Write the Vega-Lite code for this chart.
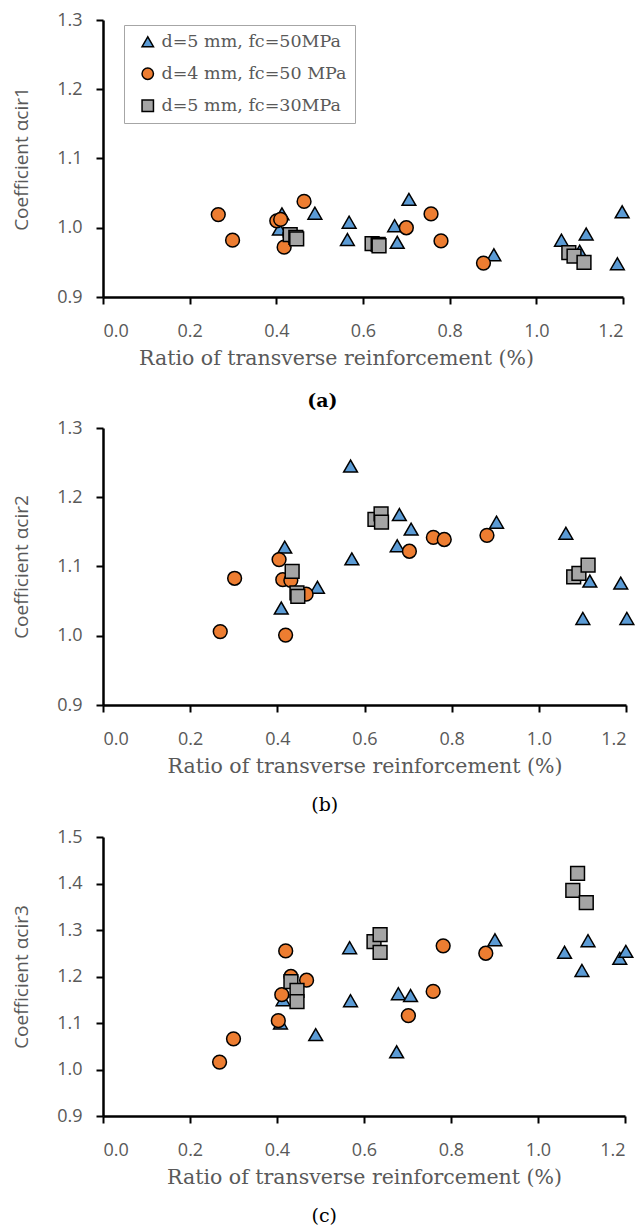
{
  "$schema": "https://vega.github.io/schema/vega-lite/v6.json",
  "padding": {"left": 12, "top": 11, "right": 0, "bottom": 0},
  "background": "white",
  "spacing": 8,
  "datasets": {
    "pts": [
      {"p":"a","s":"d=5 mm, fc=50MPa","x":0.407,"y":0.998},
      {"p":"a","s":"d=5 mm, fc=50MPa","x":0.413,"y":1.020},
      {"p":"a","s":"d=5 mm, fc=50MPa","x":0.489,"y":1.021},
      {"p":"a","s":"d=5 mm, fc=50MPa","x":0.568,"y":1.008},
      {"p":"a","s":"d=5 mm, fc=50MPa","x":0.564,"y":0.983},
      {"p":"a","s":"d=5 mm, fc=50MPa","x":0.673,"y":1.003},
      {"p":"a","s":"d=5 mm, fc=50MPa","x":0.679,"y":0.979},
      {"p":"a","s":"d=5 mm, fc=50MPa","x":0.706,"y":1.041},
      {"p":"a","s":"d=5 mm, fc=50MPa","x":0.902,"y":0.961},
      {"p":"a","s":"d=5 mm, fc=50MPa","x":1.058,"y":0.982},
      {"p":"a","s":"d=5 mm, fc=50MPa","x":1.100,"y":0.966},
      {"p":"a","s":"d=5 mm, fc=50MPa","x":1.115,"y":0.991},
      {"p":"a","s":"d=5 mm, fc=50MPa","x":1.187,"y":0.948},
      {"p":"a","s":"d=5 mm, fc=50MPa","x":1.198,"y":1.023},
      {"p":"a","s":"d=4 mm, fc=50 MPa","x":0.266,"y":1.019},
      {"p":"a","s":"d=4 mm, fc=50 MPa","x":0.299,"y":0.982},
      {"p":"a","s":"d=4 mm, fc=50 MPa","x":0.401,"y":1.010},
      {"p":"a","s":"d=4 mm, fc=50 MPa","x":0.410,"y":1.012},
      {"p":"a","s":"d=4 mm, fc=50 MPa","x":0.418,"y":0.972},
      {"p":"a","s":"d=4 mm, fc=50 MPa","x":0.431,"y":0.990},
      {"p":"a","s":"d=4 mm, fc=50 MPa","x":0.464,"y":1.038},
      {"p":"a","s":"d=4 mm, fc=50 MPa","x":0.700,"y":1.000},
      {"p":"a","s":"d=4 mm, fc=50 MPa","x":0.757,"y":1.020},
      {"p":"a","s":"d=4 mm, fc=50 MPa","x":0.780,"y":0.981},
      {"p":"a","s":"d=4 mm, fc=50 MPa","x":0.878,"y":0.949},
      {"p":"a","s":"d=5 mm, fc=30MPa","x":0.432,"y":0.990},
      {"p":"a","s":"d=5 mm, fc=30MPa","x":0.445,"y":0.986},
      {"p":"a","s":"d=5 mm, fc=30MPa","x":0.447,"y":0.984},
      {"p":"a","s":"d=5 mm, fc=30MPa","x":0.621,"y":0.977},
      {"p":"a","s":"d=5 mm, fc=30MPa","x":0.635,"y":0.976},
      {"p":"a","s":"d=5 mm, fc=30MPa","x":0.637,"y":0.974},
      {"p":"a","s":"d=5 mm, fc=30MPa","x":1.075,"y":0.964},
      {"p":"a","s":"d=5 mm, fc=30MPa","x":1.087,"y":0.959},
      {"p":"a","s":"d=5 mm, fc=30MPa","x":1.110,"y":0.950},

      {"p":"b","s":"d=5 mm, fc=50MPa","x":0.409,"y":1.040},
      {"p":"b","s":"d=5 mm, fc=50MPa","x":0.417,"y":1.128},
      {"p":"b","s":"d=5 mm, fc=50MPa","x":0.492,"y":1.070},
      {"p":"b","s":"d=5 mm, fc=50MPa","x":0.568,"y":1.245},
      {"p":"b","s":"d=5 mm, fc=50MPa","x":0.571,"y":1.111},
      {"p":"b","s":"d=5 mm, fc=50MPa","x":0.680,"y":1.175},
      {"p":"b","s":"d=5 mm, fc=50MPa","x":0.675,"y":1.130},
      {"p":"b","s":"d=5 mm, fc=50MPa","x":0.707,"y":1.154},
      {"p":"b","s":"d=5 mm, fc=50MPa","x":0.903,"y":1.164},
      {"p":"b","s":"d=5 mm, fc=50MPa","x":1.062,"y":1.148},
      {"p":"b","s":"d=5 mm, fc=50MPa","x":1.101,"y":1.025},
      {"p":"b","s":"d=5 mm, fc=50MPa","x":1.117,"y":1.079},
      {"p":"b","s":"d=5 mm, fc=50MPa","x":1.188,"y":1.076},
      {"p":"b","s":"d=5 mm, fc=50MPa","x":1.202,"y":1.025},
      {"p":"b","s":"d=4 mm, fc=50 MPa","x":0.269,"y":1.006},
      {"p":"b","s":"d=4 mm, fc=50 MPa","x":0.302,"y":1.083},
      {"p":"b","s":"d=4 mm, fc=50 MPa","x":0.404,"y":1.110},
      {"p":"b","s":"d=4 mm, fc=50 MPa","x":0.4125,"y":1.081},
      {"p":"b","s":"d=4 mm, fc=50 MPa","x":0.419,"y":1.001},
      {"p":"b","s":"d=4 mm, fc=50 MPa","x":0.431,"y":1.080},
      {"p":"b","s":"d=4 mm, fc=50 MPa","x":0.466,"y":1.060},
      {"p":"b","s":"d=4 mm, fc=50 MPa","x":0.703,"y":1.122},
      {"p":"b","s":"d=4 mm, fc=50 MPa","x":0.758,"y":1.142},
      {"p":"b","s":"d=4 mm, fc=50 MPa","x":0.783,"y":1.139},
      {"p":"b","s":"d=4 mm, fc=50 MPa","x":0.881,"y":1.145},
      {"p":"b","s":"d=5 mm, fc=30MPa","x":0.434,"y":1.093},
      {"p":"b","s":"d=5 mm, fc=30MPa","x":0.445,"y":1.062},
      {"p":"b","s":"d=5 mm, fc=30MPa","x":0.447,"y":1.057},
      {"p":"b","s":"d=5 mm, fc=30MPa","x":0.624,"y":1.168},
      {"p":"b","s":"d=5 mm, fc=30MPa","x":0.638,"y":1.176},
      {"p":"b","s":"d=5 mm, fc=30MPa","x":0.639,"y":1.164},
      {"p":"b","s":"d=5 mm, fc=30MPa","x":1.080,"y":1.085},
      {"p":"b","s":"d=5 mm, fc=30MPa","x":1.092,"y":1.090},
      {"p":"b","s":"d=5 mm, fc=30MPa","x":1.113,"y":1.102},

      {"p":"c","s":"d=5 mm, fc=50MPa","x":0.408,"y":1.100},
      {"p":"c","s":"d=5 mm, fc=50MPa","x":0.414,"y":1.150},
      {"p":"c","s":"d=5 mm, fc=50MPa","x":0.489,"y":1.075},
      {"p":"c","s":"d=5 mm, fc=50MPa","x":0.567,"y":1.262},
      {"p":"c","s":"d=5 mm, fc=50MPa","x":0.569,"y":1.148},
      {"p":"c","s":"d=5 mm, fc=50MPa","x":0.679,"y":1.163},
      {"p":"c","s":"d=5 mm, fc=50MPa","x":0.675,"y":1.038},
      {"p":"c","s":"d=5 mm, fc=50MPa","x":0.707,"y":1.159},
      {"p":"c","s":"d=5 mm, fc=50MPa","x":0.901,"y":1.279},
      {"p":"c","s":"d=5 mm, fc=50MPa","x":1.061,"y":1.252},
      {"p":"c","s":"d=5 mm, fc=50MPa","x":1.101,"y":1.213},
      {"p":"c","s":"d=5 mm, fc=50MPa","x":1.115,"y":1.277},
      {"p":"c","s":"d=5 mm, fc=50MPa","x":1.188,"y":1.239},
      {"p":"c","s":"d=5 mm, fc=50MPa","x":1.202,"y":1.254},
      {"p":"c","s":"d=4 mm, fc=50 MPa","x":0.268,"y":1.016},
      {"p":"c","s":"d=4 mm, fc=50 MPa","x":0.300,"y":1.066},
      {"p":"c","s":"d=4 mm, fc=50 MPa","x":0.403,"y":1.105},
      {"p":"c","s":"d=4 mm, fc=50 MPa","x":0.411,"y":1.161},
      {"p":"c","s":"d=4 mm, fc=50 MPa","x":0.420,"y":1.255},
      {"p":"c","s":"d=4 mm, fc=50 MPa","x":0.432,"y":1.200},
      {"p":"c","s":"d=4 mm, fc=50 MPa","x":0.468,"y":1.192},
      {"p":"c","s":"d=4 mm, fc=50 MPa","x":0.702,"y":1.116},
      {"p":"c","s":"d=4 mm, fc=50 MPa","x":0.759,"y":1.168},
      {"p":"c","s":"d=4 mm, fc=50 MPa","x":0.782,"y":1.266},
      {"p":"c","s":"d=4 mm, fc=50 MPa","x":0.880,"y":1.250},
      {"p":"c","s":"d=5 mm, fc=30MPa","x":0.432,"y":1.189},
      {"p":"c","s":"d=5 mm, fc=30MPa","x":0.446,"y":1.170},
      {"p":"c","s":"d=5 mm, fc=30MPa","x":0.446,"y":1.146},
      {"p":"c","s":"d=5 mm, fc=30MPa","x":0.623,"y":1.275},
      {"p":"c","s":"d=5 mm, fc=30MPa","x":0.637,"y":1.290},
      {"p":"c","s":"d=5 mm, fc=30MPa","x":0.637,"y":1.252},
      {"p":"c","s":"d=5 mm, fc=30MPa","x":1.080,"y":1.385},
      {"p":"c","s":"d=5 mm, fc=30MPa","x":1.091,"y":1.422},
      {"p":"c","s":"d=5 mm, fc=30MPa","x":1.111,"y":1.359}
    ]
  },
  "data": {"name": "pts"},
  "resolve": {"scale": {"fill": "independent", "shape": "independent", "stroke": "independent", "x": "independent", "y": "independent"}, "legend": {"fill": "independent", "shape": "independent", "stroke": "independent"}},
  "vconcat": [
    {
      "width": 520, "height": 277,
      "transform": [{"filter": "datum.p == 'a'"}],
      "title": {"text": "(a)", "fontWeight": "bold", "offset": 23},
      "mark": {"type": "point", "filled": true, "strokeWidth": 1.5, "opacity": 1, "strokeOpacity": 1, "size": 190},
      "encoding": {
        "x": {"field": "x", "type": "quantitative", "scale": {"domain": [0, 1.2], "nice": false, "zero": false},
              "axis": {"values": [0, 0.2, 0.4, 0.6, 0.8, 1.0, 1.2], "format": ".1f", "title": "Ratio of transverse reinforcement (%)", "titleX": 233}},
        "y": {"field": "y", "type": "quantitative", "scale": {"domain": [0.9, 1.3], "nice": false, "zero": false},
              "axis": {"values": [0.9, 1.0, 1.1, 1.2, 1.3], "format": ".1f", "title": "Coefficient αcir1"}},
        "fill": {"field": "s", "type": "nominal", "sort": null,
                 "scale": {"domain": ["d=5 mm, fc=50MPa", "d=4 mm, fc=50 MPa", "d=5 mm, fc=30MPa"], "range": ["#5B9BD5", "#ED7D31", "#A5A5A5"]},
                 "legend": {"orient": "none", "legendX": 21, "legendY": 5, "title": null, "strokeColor": "#A6A6A6", "fillColor": "white", "padding": 8, "rowPadding": 13, "labelFont": "DejaVu Serif", "labelFontSize": 17.5, "labelLimit": 400, "labelColor": "#595959", "symbolStrokeWidth": 1.5, "symbolSize": 130, "labelOffset": 5, "symbolOffset": 7}},
        "stroke": {"field": "s", "type": "nominal", "sort": null,
                 "scale": {"domain": ["d=5 mm, fc=50MPa", "d=4 mm, fc=50 MPa", "d=5 mm, fc=30MPa"], "range": ["black", "black", "black"]},
                 "legend": {"orient": "none", "legendX": 21, "legendY": 5, "title": null, "strokeColor": "#A6A6A6", "fillColor": "white", "padding": 8, "rowPadding": 13, "labelFont": "DejaVu Serif", "labelFontSize": 17.5, "labelLimit": 400, "labelColor": "#595959", "symbolStrokeWidth": 1.5, "symbolSize": 130, "labelOffset": 5, "symbolOffset": 7}},
        "shape": {"field": "s", "type": "nominal", "sort": null,
                  "scale": {"domain": ["d=5 mm, fc=50MPa", "d=4 mm, fc=50 MPa", "d=5 mm, fc=30MPa"], "range": ["triangle-up", "circle", "square"]},
                  "legend": {"orient": "none", "legendX": 21, "legendY": 5, "title": null, "strokeColor": "#A6A6A6", "fillColor": "white", "padding": 8, "rowPadding": 13, "labelFont": "DejaVu Serif", "labelFontSize": 17.5, "labelLimit": 400, "labelColor": "#595959", "symbolStrokeWidth": 1.5, "symbolSize": 130, "labelOffset": 5, "symbolOffset": 7}}
      }
    },
    {
      "width": 523, "height": 277,
      "transform": [{"filter": "datum.p == 'b'"}],
      "title": {"text": ["(b)", " "], "offset": 19, "lineHeight": 5},
      "mark": {"type": "point", "filled": true, "stroke": "black", "strokeWidth": 1.5, "opacity": 1, "size": 190},
      "encoding": {
        "x": {"field": "x", "type": "quantitative", "scale": {"domain": [0, 1.2], "nice": false, "zero": false},
              "axis": {"values": [0, 0.2, 0.4, 0.6, 0.8, 1.0, 1.2], "format": ".1f", "title": "Ratio of transverse reinforcement (%)"}},
        "y": {"field": "y", "type": "quantitative", "scale": {"domain": [0.9, 1.3], "nice": false, "zero": false},
              "axis": {"values": [0.9, 1.0, 1.1, 1.2, 1.3], "format": ".1f", "title": "Coefficient αcir2"}},
        "fill": {"field": "s", "type": "nominal", "sort": null,
                 "scale": {"domain": ["d=5 mm, fc=50MPa", "d=4 mm, fc=50 MPa", "d=5 mm, fc=30MPa"], "range": ["#5B9BD5", "#ED7D31", "#A5A5A5"]}, "legend": null},
        "shape": {"field": "s", "type": "nominal", "sort": null,
                  "scale": {"domain": ["d=5 mm, fc=50MPa", "d=4 mm, fc=50 MPa", "d=5 mm, fc=30MPa"], "range": ["triangle-up", "circle", "square"]}, "legend": null}
      }
    },
    {
      "width": 522, "height": 279,
      "transform": [{"filter": "datum.p == 'c'"}],
      "title": {"text": "(c)", "offset": 19},
      "mark": {"type": "point", "filled": true, "stroke": "black", "strokeWidth": 1.5, "opacity": 1, "size": 190},
      "encoding": {
        "x": {"field": "x", "type": "quantitative", "scale": {"domain": [0, 1.2], "nice": false, "zero": false},
              "axis": {"values": [0, 0.2, 0.4, 0.6, 0.8, 1.0, 1.2], "format": ".1f", "title": "Ratio of transverse reinforcement (%)"}},
        "y": {"field": "y", "type": "quantitative", "scale": {"domain": [0.9, 1.5], "nice": false, "zero": false},
              "axis": {"values": [0.9, 1.0, 1.1, 1.2, 1.3, 1.4, 1.5], "format": ".1f", "title": "Coefficient αcir3"}},
        "fill": {"field": "s", "type": "nominal", "sort": null,
                 "scale": {"domain": ["d=5 mm, fc=50MPa", "d=4 mm, fc=50 MPa", "d=5 mm, fc=30MPa"], "range": ["#5B9BD5", "#ED7D31", "#A5A5A5"]}, "legend": null},
        "shape": {"field": "s", "type": "nominal", "sort": null,
                  "scale": {"domain": ["d=5 mm, fc=50MPa", "d=4 mm, fc=50 MPa", "d=5 mm, fc=30MPa"], "range": ["triangle-up", "circle", "square"]}, "legend": null}
      }
    }
  ],
  "config": {
    "view": {"stroke": null},
    "axis": {"grid": false, "domainColor": "black", "domainWidth": 2.5, "tickColor": "black", "tickWidth": 2, "tickSize": 7,
             "labelFont": "Open Sans", "labelFontSize": 18, "labelColor": "#595959", "labelPadding": 14,
             "titleColor": "#595959", "titleFontWeight": "normal"},
    "axisX": {"titleFont": "DejaVu Serif", "titleFontSize": 20.5, "titlePadding": 8, "labelPadding": 18},
    "axisY": {"titleFont": "Open Sans", "titleFontSize": 19, "titlePadding": 25},
    "title": {"orient": "bottom", "font": "DejaVu Serif", "fontSize": 19, "color": "black", "fontWeight": "normal", "offset": 18, "anchor": "middle", "frame": "bounds"}
  }
}
